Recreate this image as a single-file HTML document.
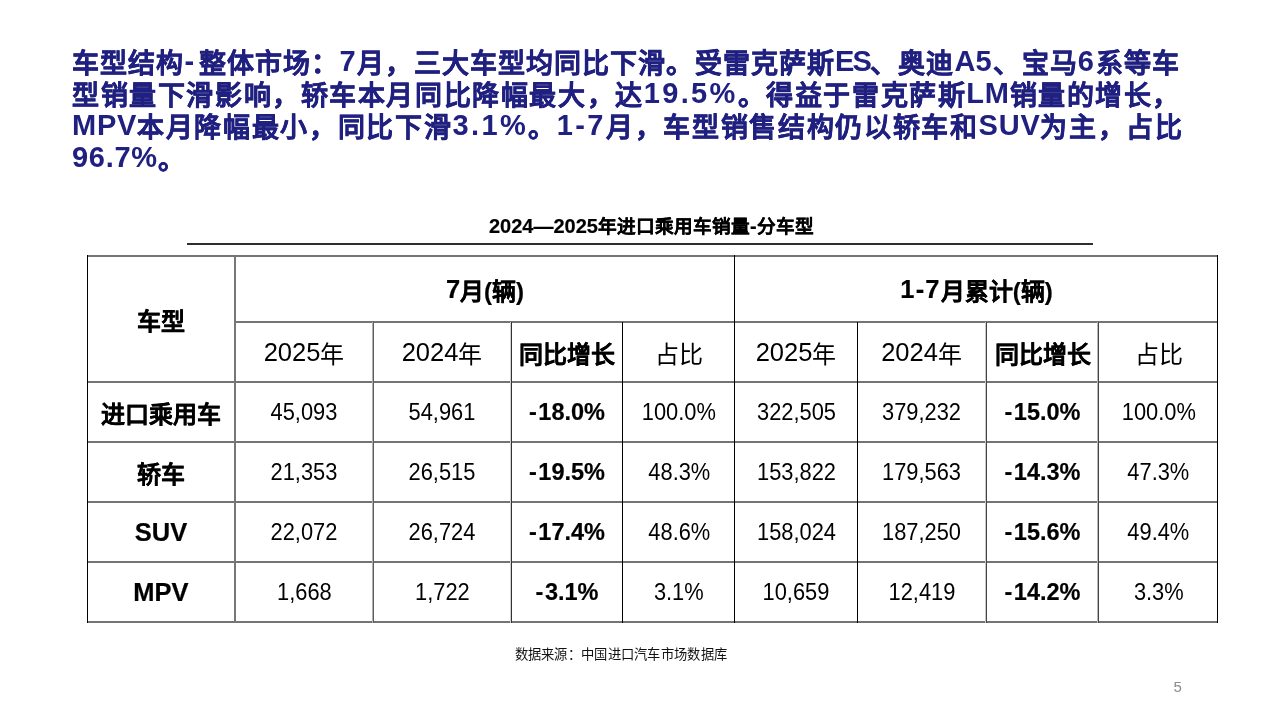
<!DOCTYPE html>
<html lang="zh-CN"><head><meta charset="utf-8">
<style>
html,body{margin:0;padding:0;background:#fff;}
body{width:1280px;height:720px;position:relative;overflow:hidden;font-family:"Liberation Sans",sans-serif;color:#000;}
.t{position:absolute;white-space:nowrap;}
#hd{position:absolute;left:72px;top:47px;width:1150px;font-size:27px;line-height:32px;font-weight:bold;color:#202080;-webkit-text-stroke:0.35px #202080;}
#hd div{white-space:nowrap;height:32px;}
#hd span{-webkit-text-stroke:0;}
#cap{left:489px;top:212px;font-size:18.67px;font-weight:bold;line-height:28px;-webkit-text-stroke:0.2px #000;}
#cap span{font-size:20px;}
#uline{position:absolute;left:187px;top:243px;width:906px;height:2px;background:#2e2e2e;}
.hl{position:absolute;height:2px;background:#747474;}
.vl{position:absolute;width:1px;}
.c{position:absolute;display:flex;align-items:center;justify-content:center;white-space:nowrap;}
.b{font-weight:bold;-webkit-text-stroke:0.2px #000;}
.h{font-size:24px;}
.h span{font-size:25.5px;}
.n{font-size:23.5px;}
.sx{display:inline-block;transform:scaleX(0.93);}
.nb{font-size:23.5px;}
.mn{margin-right:1.5px;}
#src{left:514.5px;top:645.5px;font-size:13.3px;line-height:18px;letter-spacing:0.3px;font-weight:300;color:#111;}
#pg{left:1173.5px;top:677.5px;font-size:15px;color:#8a8a8a;line-height:18px;}
</style></head><body>
<div id="wrap" style="position:absolute;left:0;top:0;width:1280px;height:720px;will-change:transform;">
<div id="hd">
<div style="letter-spacing:1.10px">车型结构<span style="position:relative;top:-2.0px;font-size:29px;letter-spacing:1.82px"><span style="margin-right:3px">-</span></span>整体市场：<span style="position:relative;top:-2.0px;font-size:29px;letter-spacing:1.82px">7</span>月，三大车型均同比下滑。受雷克萨斯<span style="position:relative;top:-2.0px;font-size:29px;letter-spacing:-1.83px">ES</span>、奥迪<span style="position:relative;top:-2.0px;font-size:29px;letter-spacing:0.17px">A</span><span style="position:relative;top:-2.0px;font-size:29px;letter-spacing:1.82px">5</span>、宝马<span style="position:relative;top:-2.0px;font-size:29px;letter-spacing:1.82px">6</span>系等车</div>
<div style="letter-spacing:1.59px">型销量下滑影响，轿车本月同比降幅最大，达<span style="position:relative;top:-2.0px;font-size:29px;letter-spacing:2.31px">19.5%</span>。得益于雷克萨斯<span style="position:relative;top:-2.0px;font-size:29px;letter-spacing:0.66px">LM</span>销量的增长，</div>
<div style="letter-spacing:1.67px"><span style="position:relative;top:-2.0px;font-size:29px;letter-spacing:0.74px">MPV</span>本月降幅最小，同比下滑<span style="position:relative;top:-2.0px;font-size:29px;letter-spacing:2.39px">3.1%</span>。<span style="position:relative;top:-2.0px;font-size:29px;letter-spacing:2.39px">1-7</span>月，车型销售结构仍以轿车和<span style="position:relative;top:-2.0px;font-size:29px;letter-spacing:0.74px">SUV</span>为主，占比</div>
<div style="letter-spacing:0.00px"><span style="position:relative;top:-2.0px;font-size:29px;letter-spacing:0.72px">96.7%</span>。</div>
</div>
<div class="t" id="cap"><span>2024—2025</span>年进口乘用车销量<span>-</span>分车型</div>
<div id="uline"></div>
<div id="tbl">
<div class="hl" style="left:87px;top:255px;width:1131px"></div>
<div class="hl" style="left:235px;top:321px;width:983px"></div>
<div class="hl" style="left:87px;top:381px;width:1131px"></div>
<div class="hl" style="left:87px;top:441px;width:1131px"></div>
<div class="hl" style="left:87px;top:501px;width:1131px"></div>
<div class="hl" style="left:87px;top:561px;width:1131px"></div>
<div class="hl" style="left:87px;top:621px;width:1131px"></div>
<div class="vl" style="left:87px;top:255px;height:368px;width:1px;background:#000"></div>
<div class="vl" style="left:234px;top:255px;height:368px;width:2px;background:#777"></div>
<div class="vl" style="left:372px;top:322px;height:301px;width:1px;background:#b0b0b0"></div>
<div class="vl" style="left:373px;top:322px;height:301px;width:1px;background:#5c5c5c"></div>
<div class="vl" style="left:511px;top:322px;height:301px;width:1px;background:#333"></div>
<div class="vl" style="left:510px;top:322px;height:301px;width:1px;background:#d0d0d0"></div>
<div class="vl" style="left:622px;top:322px;height:301px;width:1px;background:#000"></div>
<div class="vl" style="left:734px;top:255px;height:368px;width:1px;background:#000"></div>
<div class="vl" style="left:857px;top:322px;height:301px;width:1px;background:#000"></div>
<div class="vl" style="left:985px;top:322px;height:301px;width:1px;background:#c8c8c8"></div>
<div class="vl" style="left:986px;top:322px;height:301px;width:1px;background:#444"></div>
<div class="vl" style="left:1097px;top:322px;height:301px;width:1px;background:#b8b8b8"></div>
<div class="vl" style="left:1098px;top:322px;height:301px;width:1px;background:#444"></div>
<div class="vl" style="left:1217px;top:255px;height:368px;width:1px;background:#000"></div>
<div class="c h b" style="left:87px;width:148px;top:256px;height:126px">车型</div>
<div class="c h b" style="left:235px;width:500px;top:256px;height:66px"><span>7</span>月(辆)</div>
<div class="c h b" style="left:735px;width:483px;top:256px;height:66px"><span style="letter-spacing:1.2px">1-7</span>月累计(辆)</div>
<div class="c h" style="left:235px;width:138px;top:322px;height:60px"><span>2025</span>年</div>
<div class="c h" style="left:373px;width:138px;top:322px;height:60px"><span>2024</span>年</div>
<div class="c h b" style="left:511px;width:112px;top:322px;height:60px">同比增长</div>
<div class="c h" style="left:623px;width:112px;top:322px;height:60px">占比</div>
<div class="c h" style="left:735px;width:122px;top:322px;height:60px"><span>2025</span>年</div>
<div class="c h" style="left:857px;width:129px;top:322px;height:60px"><span>2024</span>年</div>
<div class="c h b" style="left:986px;width:113px;top:322px;height:60px">同比增长</div>
<div class="c h" style="left:1099px;width:119px;top:322px;height:60px">占比</div>
<div class="c h b" style="left:87px;width:148px;top:382px;height:60px">进口乘用车</div>
<div class="c n" style="left:235px;width:138px;top:382px;height:60px"><span class="sx">45,093</span></div>
<div class="c n" style="left:373px;width:138px;top:382px;height:60px"><span class="sx">54,961</span></div>
<div class="c nb b" style="left:511px;width:112px;top:382px;height:60px"><span class="mn">-</span>18.0%</div>
<div class="c n" style="left:623px;width:112px;top:382px;height:60px"><span class="sx">100.0%</span></div>
<div class="c n" style="left:735px;width:122px;top:382px;height:60px"><span class="sx">322,505</span></div>
<div class="c n" style="left:857px;width:129px;top:382px;height:60px"><span class="sx">379,232</span></div>
<div class="c nb b" style="left:986px;width:113px;top:382px;height:60px"><span class="mn">-</span>15.0%</div>
<div class="c n" style="left:1099px;width:119px;top:382px;height:60px"><span class="sx">100.0%</span></div>
<div class="c h b" style="left:87px;width:148px;top:442px;height:60px">轿车</div>
<div class="c n" style="left:235px;width:138px;top:442px;height:60px"><span class="sx">21,353</span></div>
<div class="c n" style="left:373px;width:138px;top:442px;height:60px"><span class="sx">26,515</span></div>
<div class="c nb b" style="left:511px;width:112px;top:442px;height:60px"><span class="mn">-</span>19.5%</div>
<div class="c n" style="left:623px;width:112px;top:442px;height:60px"><span class="sx">48.3%</span></div>
<div class="c n" style="left:735px;width:122px;top:442px;height:60px"><span class="sx">153,822</span></div>
<div class="c n" style="left:857px;width:129px;top:442px;height:60px"><span class="sx">179,563</span></div>
<div class="c nb b" style="left:986px;width:113px;top:442px;height:60px"><span class="mn">-</span>14.3%</div>
<div class="c n" style="left:1099px;width:119px;top:442px;height:60px"><span class="sx">47.3%</span></div>
<div class="c h b" style="left:87px;width:148px;top:502px;height:60px"><span>SUV</span></div>
<div class="c n" style="left:235px;width:138px;top:502px;height:60px"><span class="sx">22,072</span></div>
<div class="c n" style="left:373px;width:138px;top:502px;height:60px"><span class="sx">26,724</span></div>
<div class="c nb b" style="left:511px;width:112px;top:502px;height:60px"><span class="mn">-</span>17.4%</div>
<div class="c n" style="left:623px;width:112px;top:502px;height:60px"><span class="sx">48.6%</span></div>
<div class="c n" style="left:735px;width:122px;top:502px;height:60px"><span class="sx">158,024</span></div>
<div class="c n" style="left:857px;width:129px;top:502px;height:60px"><span class="sx">187,250</span></div>
<div class="c nb b" style="left:986px;width:113px;top:502px;height:60px"><span class="mn">-</span>15.6%</div>
<div class="c n" style="left:1099px;width:119px;top:502px;height:60px"><span class="sx">49.4%</span></div>
<div class="c h b" style="left:87px;width:148px;top:562px;height:60px"><span>MPV</span></div>
<div class="c n" style="left:235px;width:138px;top:562px;height:60px"><span class="sx">1,668</span></div>
<div class="c n" style="left:373px;width:138px;top:562px;height:60px"><span class="sx">1,722</span></div>
<div class="c nb b" style="left:511px;width:112px;top:562px;height:60px"><span class="mn">-</span>3.1%</div>
<div class="c n" style="left:623px;width:112px;top:562px;height:60px"><span class="sx">3.1%</span></div>
<div class="c n" style="left:735px;width:122px;top:562px;height:60px"><span class="sx">10,659</span></div>
<div class="c n" style="left:857px;width:129px;top:562px;height:60px"><span class="sx">12,419</span></div>
<div class="c nb b" style="left:986px;width:113px;top:562px;height:60px"><span class="mn">-</span>14.2%</div>
<div class="c n" style="left:1099px;width:119px;top:562px;height:60px"><span class="sx">3.3%</span></div>
</div>
<div class="t" id="src">数据来源：中国进口汽车市场数据库</div>
<div class="t" id="pg">5</div>
</div>
</body></html>
